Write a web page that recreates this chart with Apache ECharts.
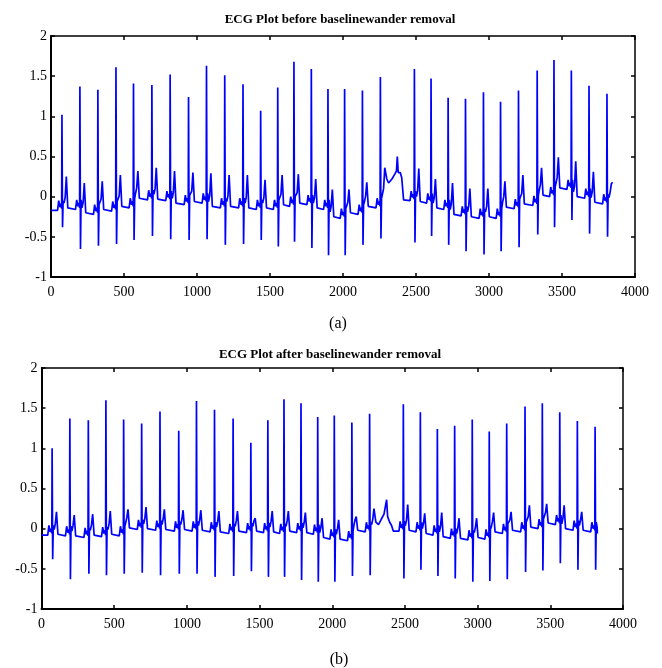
<!DOCTYPE html>
<html>
<head>
<meta charset="utf-8">
<script src="https://cdn.jsdelivr.net/npm/echarts@6/dist/echarts.min.js"></script>
<style>html,body{margin:0;padding:0;background:#fff}#c{width:662px;height:668px}</style>
</head>
<body>
<div id="c"></div>
<script>
// ---- tick labels / axis ranges ----
const xTicks = [0, 500, 1000, 1500, 2000, 2500, 3000, 3500, 4000];
const yTicks = [-1, -0.5, 0, 0.5, 1, 1.5, 2];

// ---- panel (a): before baseline wander removal ----
const topR_x = [75,198,321,445,565,691,816,942,1065,1190,1315,1436,1553,1664,1783,1897,2011,2133,2256,2489,2603,2720,2839,2962,3079,3202,3330,3445,3564,3685,3808];
const topR_y = [1.02,1.37,1.33,1.61,1.41,1.39,1.52,1.24,1.63,1.51,1.40,1.07,1.36,1.68,1.59,1.34,1.34,1.32,1.49,1.59,1.47,1.23,1.22,1.30,1.18,1.32,1.57,1.70,1.57,1.38,1.28];
const topS_y = [-0.38,-0.65,-0.61,-0.59,-0.54,-0.49,-0.53,-0.54,-0.53,-0.60,-0.59,-0.54,-0.62,-0.56,-0.64,-0.73,-0.73,-0.60,-0.52,-0.57,-0.49,-0.60,-0.68,-0.72,-0.68,-0.63,-0.47,-0.38,-0.29,-0.46,-0.50];
const topT_y = [0.25,0.17,0.19,0.27,0.32,0.36,0.32,0.30,0.29,0.27,0.27,0.21,0.27,0.28,0.22,0.09,0.09,0.18,0.36,0.35,0.22,0.17,0.10,0.10,0.19,0.27,0.36,0.49,0.44,0.31,0.16];
const topBase = [-0.16,-0.22,-0.18,-0.14,-0.04,-0.05,-0.10,-0.08,-0.14,-0.14,-0.16,-0.16,-0.12,-0.10,-0.16,-0.27,-0.22,-0.14,-0.05,-0.08,-0.16,-0.24,-0.27,-0.27,-0.15,-0.11,0.00,0.09,-0.02,-0.09,-0.09];
const topStart = [0, -0.17];
const topEnd = [3847, 0.18];
const topArtifact = [[2300,0.22],[2312,0.17],[2335,0.22],[2355,0.28],[2366,0.32],[2372,0.50],[2378,0.30],[2392,0.30],[2402,0.24],[2415,-0.04]];

// ---- panel (b): after baseline wander removal ----
const botR_x = [73,195,322,443,565,689,815,944,1066,1190,1318,1440,1557,1668,1785,1900,2014,2135,2257,2489,2606,2723,2842,2963,3080,3200,3326,3445,3565,3686,3808];
const botR_y = [1.00,1.37,1.35,1.60,1.36,1.31,1.46,1.22,1.59,1.48,1.37,1.07,1.35,1.61,1.56,1.39,1.41,1.32,1.43,1.55,1.45,1.24,1.28,1.36,1.21,1.31,1.52,1.56,1.45,1.34,1.27];
const botS_y = [-0.38,-0.63,-0.56,-0.58,-0.56,-0.55,-0.58,-0.56,-0.56,-0.60,-0.59,-0.53,-0.60,-0.60,-0.64,-0.66,-0.66,-0.59,-0.58,-0.62,-0.51,-0.59,-0.62,-0.66,-0.65,-0.63,-0.54,-0.52,-0.43,-0.51,-0.51];
const botT_y = [0.21,0.17,0.18,0.22,0.24,0.27,0.24,0.23,0.23,0.22,0.22,0.13,0.22,0.22,0.20,0.13,0.11,0.15,0.25,0.30,0.19,0.20,0.13,0.13,0.20,0.21,0.29,0.31,0.29,0.21,0.05];
const botBase = [-0.09,-0.11,-0.10,-0.09,-0.01,-0.02,-0.03,-0.03,-0.04,-0.06,-0.05,-0.05,-0.06,-0.05,-0.07,-0.13,-0.15,-0.04,-0.03,-0.04,-0.08,-0.12,-0.14,-0.13,-0.06,-0.04,0.00,0.05,-0.02,-0.04,-0.06];
const botStart = [0, -0.08];
const botEnd = [3824, -0.06];
const botArtifact = [[2300,0.08],[2318,0.05],[2338,0.12],[2356,0.18],[2368,0.20],[2374,0.36],[2381,0.15],[2395,0.08],[2408,0.04],[2420,-0.03]];

// beat shape: offsets (samples from R) of the P/QRS/T landmarks
function buildEcg(rx, ry, sy, ty, base, start, end, artifact) {
  let pts = [start.slice()];
  for (let i = 0; i < rx.length; i++) {
    const r = rx[i];
    const b0 = i === 0 ? start[1] : base[i - 1];
    const b1 = base[i];
    pts.push([r - 30, b0], [r - 22, b0 + 0.12], [r - 14, b0 + 0.04], [r - 6, b0 + 0.08], [r - 2, b0 + 0.02],
      [r, ry[i]], [r + 4, sy[i]], [r + 8, b0 + 0.12], [r + 14, b1 + 0.08], [r + 22, b1 + 0.15],
      [r + 30, ty[i]], [r + 40, b1 + 0.02], [r + 50, b1]);
  }
  const a0 = artifact[0][0] - 8, a1 = artifact[artifact.length - 1][0];
  pts = pts.filter(p => !(p[0] > a0 && p[0] <= a1));
  pts = pts.concat(artifact);
  pts = pts.filter(p => p[0] < end[0]);
  pts.push(end.slice());
  pts.sort((a, b) => a[0] - b[0]);
  return pts;
}

const topData = buildEcg(topR_x, topR_y, topS_y, topT_y, topBase, topStart, topEnd, topArtifact);
const botData = buildEcg(botR_x, botR_y, botS_y, botT_y, botBase, botStart, botEnd, botArtifact);

const FONT = '"Liberation Serif", "DejaVu Serif", serif';
const grids = [
  { left: 51, right: 27, top: 36, height: 241 },
  { left: 41.5, right: 39, top: 368, height: 241 }
];
const fmt = v => String(v);

function xAxes(g) {
  const common = { type: 'value', gridIndex: g, min: xTicks[0], max: xTicks[xTicks.length - 1], interval: 500,
    splitLine: { show: false } };
  return [
    Object.assign({}, common, { position: 'bottom',
      axisLine: { show: true, onZero: false, lineStyle: { color: '#000', width: 2 } },
      axisTick: { show: true, inside: true, length: 4, lineStyle: { color: '#000', width: 1.5 } },
      axisLabel: { color: '#000', fontFamily: FONT, fontSize: 14, margin: 8, formatter: fmt } }),
    Object.assign({}, common, { position: 'top',
      axisLine: { show: true, onZero: false, lineStyle: { color: '#000', width: 1.5 } },
      axisTick: { show: true, inside: true, length: 4, lineStyle: { color: '#000', width: 1.5 } },
      axisLabel: { show: false } })
  ];
}
function yAxes(g) {
  const common = { type: 'value', gridIndex: g, min: yTicks[0], max: yTicks[yTicks.length - 1], interval: 0.5,
    splitLine: { show: false } };
  return [
    Object.assign({}, common, { position: 'left',
      axisLine: { show: true, onZero: false, lineStyle: { color: '#000', width: 2 } },
      axisTick: { show: true, inside: true, length: 4, lineStyle: { color: '#000', width: 1.5 } },
      axisLabel: { color: '#000', fontFamily: FONT, fontSize: 14, margin: 4, formatter: fmt } }),
    Object.assign({}, common, { position: 'right',
      axisLine: { show: true, onZero: false, lineStyle: { color: '#000', width: 1.5 } },
      axisTick: { show: true, inside: true, length: 4, lineStyle: { color: '#000', width: 1.5 } },
      axisLabel: { show: false } })
  ];
}

const chart = echarts.init(document.getElementById('c'), null, { renderer: 'canvas' });
chart.setOption({
  animation: false,
  backgroundColor: '#fff',
  title: [
    { text: 'ECG Plot before baselinewander removal', left: 335, top: 8, textAlign: 'center',
      textStyle: { fontFamily: FONT, fontSize: 13, fontWeight: 'bold', color: '#000' } },
    { text: '(a)', left: 333, top: 311, textAlign: 'center',
      textStyle: { fontFamily: FONT, fontSize: 16, fontWeight: 'normal', color: '#000' } },
    { text: 'ECG Plot after baselinewander removal', left: 325, top: 343, textAlign: 'center',
      textStyle: { fontFamily: FONT, fontSize: 13, fontWeight: 'bold', color: '#000' } },
    { text: '(b)', left: 334, top: 647, textAlign: 'center',
      textStyle: { fontFamily: FONT, fontSize: 16, fontWeight: 'normal', color: '#000' } }
  ],
  grid: grids,
  xAxis: xAxes(0).concat(xAxes(1)),
  yAxis: yAxes(0).concat(yAxes(1)),
  series: [
    { type: 'line', xAxisIndex: 0, yAxisIndex: 0, data: topData, showSymbol: false, silent: true,
      lineStyle: { color: '#0000ff', width: 1.7 } },
    { type: 'line', xAxisIndex: 2, yAxisIndex: 2, data: botData, showSymbol: false, silent: true,
      lineStyle: { color: '#0000ff', width: 1.7 } }
  ]
});
</script>
</body>
</html>
